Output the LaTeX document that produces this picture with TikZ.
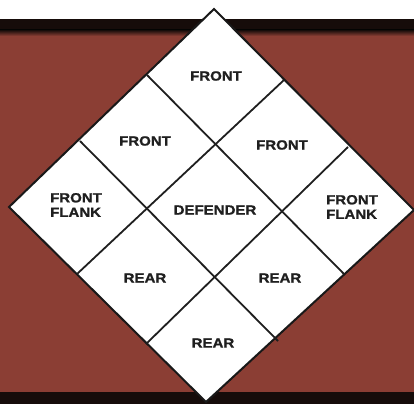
\documentclass[tikz,border=0pt]{standalone}
\usepackage{fontspec}
\setmainfont{Liberation Sans}[FakeStretch=1.12]
\newfontfamily\lblfont{Liberation Sans Bold}[FakeStretch=1.13, FakeBold=1.2]
\usetikzlibrary{calc}
\definecolor{brownbg}{RGB}{139,62,52}
\definecolor{bandcol}{RGB}{22,12,10}
\begin{document}
\begin{tikzpicture}[x=1pt,y=-1pt,
  lbl/.style={font=\lblfont\fontsize{13.3}{14.5}\selectfont, align=left, inner sep=0pt, text=black!88},
  gridline/.style={line width=1.8pt, draw=black!88},
  outline/.style={line width=2pt, draw=black!90, fill=white, line join=miter}]
\useasboundingbox (0,0) rectangle (414,404);
\fill[white] (0,0) rectangle (414,404);
\fill[brownbg] (0,19) rectangle (414,404);
\fill[bandcol] (0,19) rectangle (414,30);
\shade[top color=bandcol, bottom color=brownbg] (0,30) rectangle (414,36);
\fill[bandcol] (0,392) rectangle (414,404);
\coordinate (T) at (214,9);
\coordinate (L) at (9,207);
\coordinate (R) at (414,210);
\coordinate (B) at (206,402);
\draw[outline] (T) -- (R) -- (B) -- (L) -- cycle;
\coordinate (a1) at (147,75);
\coordinate (a2) at (80,141);
\coordinate (b1) at (344,274);
\coordinate (b2) at (278,341);
\coordinate (c1) at (284,80);
\coordinate (c2) at (348,147);
\coordinate (d1) at (77,274);
\coordinate (d2) at (146,344);
\draw[gridline] (a1) -- (b1);
\draw[gridline] (a2) -- (b2);
\draw[gridline] (c1) -- (d1);
\draw[gridline] (c2) -- (d2);
\node[lbl] (ftop) at (216,76) {FRONT};
\node[lbl] (fleft) at (145,141) {FRONT};
\node[lbl] (fright) at (282,145) {FRONT};
\node[lbl] (ffl) at (76,205) {FRONT\\FLANK};
\node[lbl] (ffr) at (352,207) {FRONT\\FLANK};
\node[lbl] (def) at (215,210) {DEFENDER};
\node[lbl] (rleft) at (145,278) {REAR};
\node[lbl] (rright) at (280,278) {REAR};
\node[lbl] (rbot) at (213,343) {REAR};
\end{tikzpicture}
\end{document}
